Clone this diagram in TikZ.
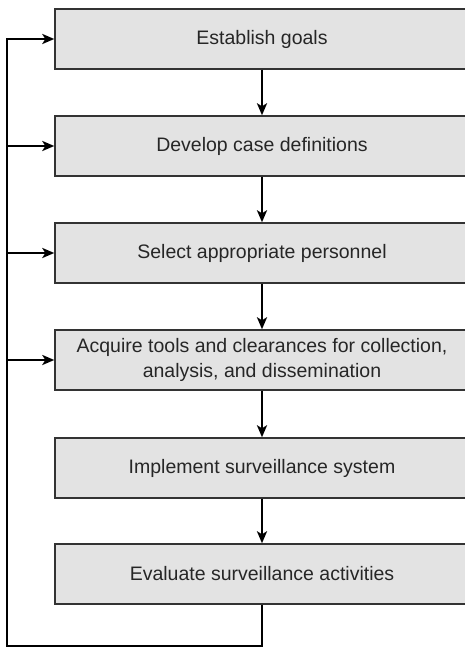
\documentclass[tikz,border=0pt]{standalone}
\usepackage{fontspec}
\setmainfont{Liberation Sans}
\usetikzlibrary{arrows.meta}

\tikzset{
  stage/.style={rectangle, draw=black!80, line width=1.4pt, fill=black!11,
    minimum width=414pt, minimum height=60pt, align=center, text=black!85,
    font=\fontsize{19.5}{24.5}\selectfont},
  flow/.style={-{Stealth[length=12pt,width=10pt,inset=3pt]}, line width=2.5pt}
}

\begin{document}
\begin{tikzpicture}[x=1pt,y=-1pt]
	\useasboundingbox (0,0) rectangle (465,648);

	\node (goals) [stage] at (262,39) {Establish goals};
	\node (cases) [stage] at (262,146) {Develop case definitions};
	\node (staff) [stage] at (262,253) {Select appropriate personnel};
	\node (tools) [stage] at (262,360) {Acquire tools and clearances for collection,\\ analysis, and dissemination};
	\node (system) [stage] at (262,468) {Implement surveillance system};
	\node (evaluate) [stage] at (262,574) {Evaluate surveillance activities};

	\draw[flow] (goals) -- (cases);
	\draw[flow] (cases) -- (staff);
	\draw[flow] (staff) -- (tools);
	\draw[flow] (tools) -- (system);
	\draw[flow] (system) -- (evaluate);

	% feedback loop back to the top
	\coordinate (corner) at (7,646);
	\draw[flow] (evaluate.south) |- (corner) |- (goals.west);
	\coordinate (tapcases) at (7,146);
	\draw[flow] (tapcases) -- (cases.west);
	\coordinate (tapstaff) at (7,253);
	\draw[flow] (tapstaff) -- (staff.west);
	\coordinate (taptools) at (7,360);
	\draw[flow] (taptools) -- (tools.west);

\end{tikzpicture}
\end{document}
